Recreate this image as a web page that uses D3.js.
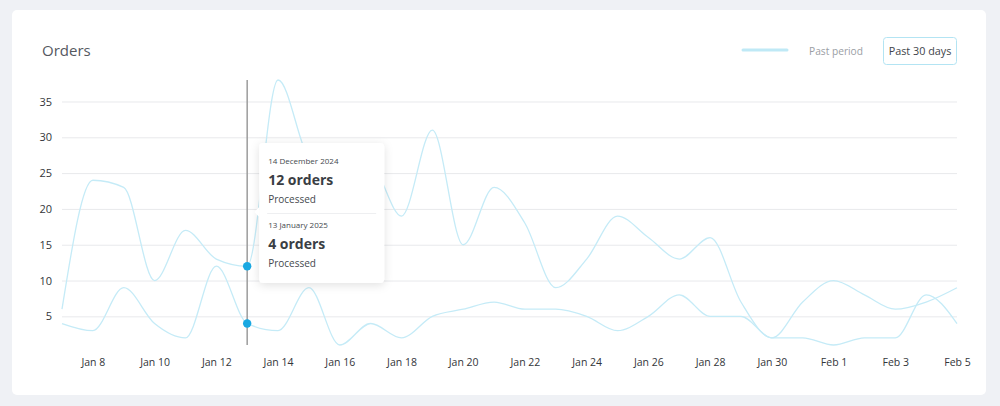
<!DOCTYPE html>
<html>
<head>
<meta charset="utf-8">
<script src="https://cdn.jsdelivr.net/npm/d3@7"></script>
<style>
  body { margin: 0; background: #eff1f5; font-family: "Open Sans", sans-serif; }
  svg { display: block; }
</style>
</head>
<body>
<div id="chart"></div>
<script>
// Orders, current 30 days vs past period
var days = ["2025-01-07","2025-01-08","2025-01-09","2025-01-10","2025-01-11","2025-01-12","2025-01-13",
  "2025-01-14","2025-01-15","2025-01-16","2025-01-17","2025-01-18","2025-01-19","2025-01-20","2025-01-21",
  "2025-01-22","2025-01-23","2025-01-24","2025-01-25","2025-01-26","2025-01-27","2025-01-28","2025-01-29",
  "2025-01-30","2025-01-31","2025-02-01","2025-02-02","2025-02-03","2025-02-04","2025-02-05"];
var pastPeriod = [6,24,23,10,17,13,12,38,27,24,26,19,31,15,23,18,9,13,19,16,13,16,7,2,7,10,8,6,7,9];
var current = [4,3,9,4,2,12,4,3,9,1,4,2,5,6,7,6,6,5,3,5,8,5,5,2,2,1,2,2,8,4];
var yTicks = [5,10,15,20,25,30,35];
var xTickDays = ["2025-01-08","2025-01-10","2025-01-12","2025-01-14","2025-01-16","2025-01-18","2025-01-20",
  "2025-01-22","2025-01-24","2025-01-26","2025-01-28","2025-01-30","2025-02-01","2025-02-03","2025-02-05"];
var hoverIndex = 6;
var tipPast = {date: "14 December 2024", text: "12 orders", status: "Processed"};
var tipNow = {date: "13 January 2025", text: "4 orders", status: "Processed"};

var svgWidth = 1000, svgHeight = 406;
var margin = {top: 80, right: 43, bottom: 61, left: 62};

var parse = d3.timeParse("%Y-%m-%d");
var dates = days.map(parse);

var svg = d3.select("#chart").append("svg")
  .attr("width", svgWidth)
  .attr("height", svgHeight);

// card
svg.append("rect")
  .attr("x", 12).attr("y", 10)
  .attr("width", 974).attr("height", 385)
  .attr("rx", 5)
  .attr("fill", "#fff");

svg.append("text")
  .attr("x", 42).attr("y", 56)
  .attr("font-size", 15)
  .attr("fill", "#55595f")
  .text("Orders");

// legend
svg.append("line")
  .attr("x1", 743).attr("x2", 787)
  .attr("y1", 50).attr("y2", 50)
  .attr("stroke", "#bfe9f6").attr("stroke-width", 3)
  .attr("stroke-linecap", "round");
svg.append("text")
  .attr("x", 809).attr("y", 55)
  .attr("font-size", 10.2).attr("fill", "#9a9ea4")
  .text("Past period");
svg.append("rect")
  .attr("x", 883.5).attr("y", 37.5)
  .attr("width", 73).attr("height", 27)
  .attr("rx", 3)
  .attr("fill", "#fff").attr("stroke", "#b3e4f3");
svg.append("text")
  .attr("x", 920).attr("y", 55)
  .attr("text-anchor", "middle")
  .attr("font-size", 10.8).attr("fill", "#40444a")
  .text("Past 30 days");

var x = d3.scaleTime()
  .domain(d3.extent(dates))
  .range([margin.left, svgWidth - margin.right]);

var y = d3.scaleLinear()
  .domain([d3.min(current.concat(pastPeriod)), d3.max(current.concat(pastPeriod))])
  .range([svgHeight - margin.bottom, margin.top]);

// grid + y labels
var yAxis = svg.append("g")
  .attr("transform", "translate(" + margin.left + ",0)")
  .call(d3.axisLeft(y).tickValues(yTicks)
    .tickSize(-(svgWidth - margin.left - margin.right))
    .tickPadding(10));
yAxis.select(".domain").remove();
yAxis.selectAll(".tick line").attr("stroke", "#e8e9ec");
yAxis.selectAll(".tick text")
  .attr("font-family", "Open Sans").attr("font-size", 11).attr("fill", "#33363a");

var xAxis = svg.append("g")
  .attr("transform", "translate(0," + (svgHeight - margin.bottom) + ")")
  .call(d3.axisBottom(x).tickValues(xTickDays.map(parse))
    .tickFormat(d3.timeFormat("%b %-d"))
    .tickSize(0).tickPadding(14));
xAxis.select(".domain").remove();
xAxis.selectAll(".tick text")
  .attr("font-family", "Open Sans").attr("font-size", 10.5).attr("fill", "#33363a");

var line = d3.line()
  .x(function(d, i) { return x(dates[i]); })
  .y(function(d) { return y(d); })
  .curve(d3.curveMonotoneX);

[pastPeriod, current].forEach(function(series) {
  svg.append("path")
    .datum(series)
    .attr("d", line)
    .attr("fill", "none")
    .attr("stroke", "#c5ebf7")
    .attr("stroke-width", 1.3);
});

// hover cursor
var hx = x(dates[hoverIndex]);
svg.append("line")
  .attr("x1", hx).attr("x2", hx)
  .attr("y1", margin.top).attr("y2", svgHeight - margin.bottom)
  .attr("stroke", "#9c9c9c").attr("stroke-width", 1.5);
[pastPeriod, current].forEach(function(series) {
  svg.append("circle")
    .attr("cx", hx).attr("cy", y(series[hoverIndex]))
    .attr("r", 4.2)
    .attr("fill", "#19a8e2");
});

// tooltip
var defs = svg.append("defs");
var f = defs.append("filter").attr("id", "shadow")
  .attr("x", "-30%").attr("y", "-30%").attr("width", "160%").attr("height", "160%");
f.append("feDropShadow")
  .attr("dx", 0).attr("dy", 2).attr("stdDeviation", 5)
  .attr("flood-color", "#000").attr("flood-opacity", 0.12);

var tip = svg.append("g").attr("transform", "translate(" + (hx + 12) + ",143)");
tip.append("rect")
  .attr("width", 125).attr("height", 140)
  .attr("rx", 4)
  .attr("fill", "#fff")
  .attr("filter", "url(#shadow)");
tip.append("path")
  .attr("d", "M0,64 L-5,69 L0,74 Z")
  .attr("fill", "#fff");
tip.append("line")
  .attr("x1", 8).attr("x2", 117)
  .attr("y1", 70.5).attr("y2", 70.5)
  .attr("stroke", "#eeeff1");

[tipPast, tipNow].forEach(function(t, k) {
  var g = tip.append("g").attr("transform", "translate(9," + (k * 64) + ")");
  g.append("text").attr("y", 21).attr("font-size", 8).attr("fill", "#45494e").text(t.date);
  g.append("text").attr("y", 42).attr("font-size", 14).attr("font-weight", 700)
    .attr("fill", "#3a3e44").text(t.text);
  g.append("text").attr("y", 60).attr("font-size", 10).attr("fill", "#45494e").text(t.status);
});
</script>
</body>
</html>
